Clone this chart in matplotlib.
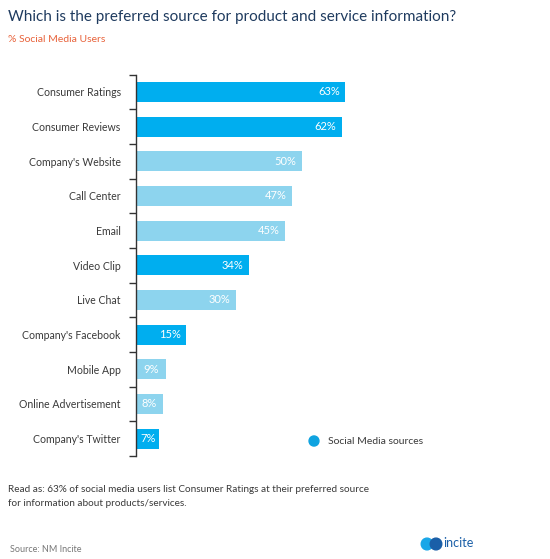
import matplotlib.pyplot as plt
from matplotlib.patches import Circle

plt.rcParams['font.family'] = ['Lato', 'DejaVu Sans']

categories = ["Consumer Ratings", "Consumer Reviews", "Company's Website", "Call Center",
              "Email", "Video Clip", "Live Chat", "Company's Facebook", "Mobile App",
              "Online Advertisement", "Company's Twitter"]
values = [63, 62, 50, 47, 45, 34, 30, 15, 9, 8, 7]
is_social = [True, True, False, False, False, True, False, True, False, False, True]

dark_blue = '#00AEEF'
light_blue = '#8DD4EE'
grey_text = '#3a3a3a'

fig = plt.figure(figsize=(5.5, 5.59), dpi=100)
W, H = 550, 559

def fx(px):
    return px / W

def fy(py):
    return 1 - py / H

ax = fig.add_axes([fx(136), fy(456), fx(332), fy(74.6) - fy(456)])
ypos = list(range(len(categories)))
colors = [dark_blue if s else light_blue for s in is_social]
ax.barh(ypos, values, height=0.58, color=colors, edgecolor='none')
ax.set_xlim(0, 100)
ax.set_ylim(len(categories) - 0.5, -0.5)

for y, v in zip(ypos, values):
    if v >= 12:
        ax.text(v - 1.6, y, f"{v}%", ha='right', va='center', color='white', fontsize=8)
    else:
        ax.text(v / 2, y, f"{v}%", ha='center', va='center', color='white', fontsize=8)

for s in ['top', 'right', 'bottom']:
    ax.spines[s].set_visible(False)
ax.spines['left'].set_color('#333333')
ax.spines['left'].set_linewidth(1.0)
ax.set_xticks([])
ax.set_yticks([y - 0.5 for y in ypos] + [len(categories) - 0.5])
ax.set_yticklabels([])
ax.tick_params(axis='y', length=5, width=1.0, color='#333333', direction='out')
ax.set_yticks(ypos, minor=True)
ax.set_yticklabels(categories, minor=True, fontsize=7.6, color=grey_text)
ax.tick_params(axis='y', which='minor', length=0, pad=11)

fig.text(fx(8), fy(17), "Which is the preferred source for product and service information?",
         fontsize=11, color='#1F3B5F', ha='left', va='center')
fig.text(fx(8), fy(40), "% Social Media Users", fontsize=7.5, color='#E8623A',
         ha='left', va='center')

# legend
fig.patches.append(Circle((fx(314), fy(441)), 0.009, transform=fig.transFigure,
                          color='#0FA3E0', figure=fig))
fig.text(fx(328), fy(441), "Social Media sources", fontsize=7.5, color=grey_text,
         ha='left', va='center')

fig.text(fx(8), fy(490), "Read as: 63% of social media users list Consumer Ratings at their preferred source",
         fontsize=7.2, color=grey_text, ha='left', va='center')
fig.text(fx(8), fy(504), "for information about products/services.",
         fontsize=7.2, color=grey_text, ha='left', va='center')
fig.text(fx(10), fy(549), "Source: NM Incite", fontsize=6.5, color='#777777',
         ha='left', va='center')

# logo
fig.patches.append(Circle((fx(427), fy(544)), 0.0105, transform=fig.transFigure,
                          color='#1AA7E8', figure=fig))
fig.patches.append(Circle((fx(436), fy(544)), 0.0105, transform=fig.transFigure,
                          color='#1A5FA8', figure=fig))
fig.text(fx(443), fy(543), "incite", fontsize=9, color='#1A5FA8', ha='left', va='center')

fig.savefig('out.png', dpi=100, facecolor='white')
